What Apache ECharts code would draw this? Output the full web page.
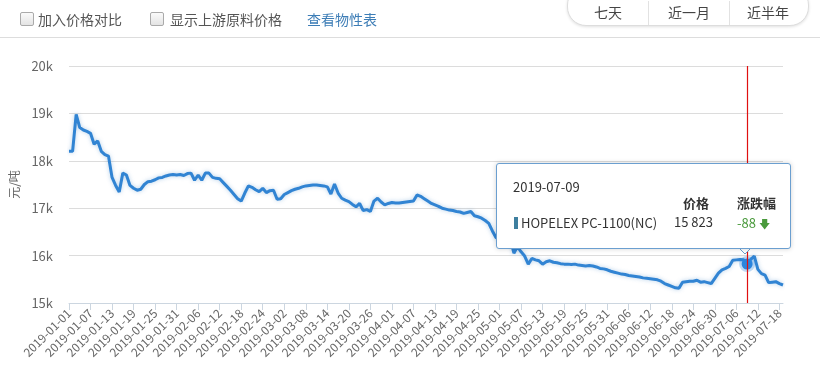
<!DOCTYPE html>
<html>
<head>
<meta charset="utf-8">
<script src="https://cdn.jsdelivr.net/npm/echarts@6/dist/echarts.min.js"></script>
<style>
  html, body { margin: 0; padding: 0; background: #fff; overflow: hidden; }
  body { font-family: "Noto Sans CJK SC", "Noto Sans", sans-serif; }
  #wrap { position: relative; width: 820px; height: 377px; }
  #chart { position: absolute; left: 0; top: 0; width: 820px; height: 377px; }
  .bar { position: absolute; left: 0; top: 0; width: 820px; height: 37px; border-bottom: 1px solid #ddd; z-index: 2; }
  .chk { position: absolute; top: 12px; width: 12px; height: 12px; border: 1px solid #aaa; border-radius: 2px;
         background: linear-gradient(#fafafa, #e4e4e4); }
  .lbl { position: absolute; top: 9px; font-size: 14px; line-height: 20px; color: #555; }
  .link { color: #3d7db6; }
  .pill { position: absolute; left: 567px; top: -14px; width: 240px; height: 38px; border: 1px solid #ddd;
          border-radius: 19px; box-shadow: 0 1px 3px rgba(0,0,0,0.12); background: #fff; overflow: hidden; }
  .pill span { position: absolute; top: 14px; width: 80px; text-align: center; font-size: 14px; line-height: 22px; color: #444; }
  .pill i { position: absolute; top: 14px; width: 1px; height: 24px; background: #e2e2e2; }
</style>
</head>
<body>
<div id="wrap">
  <div id="chart"></div>
  <div class="bar">
    <div class="chk" style="left:20px"></div>
    <div class="lbl" style="left:38px">加入价格对比</div>
    <div class="chk" style="left:150px"></div>
    <div class="lbl" style="left:170px">显示上游原料价格</div>
    <div class="lbl link" style="left:307px">查看物性表</div>
    <div class="pill">
      <span style="left:0">七天</span><i style="left:80px"></i>
      <span style="left:81px">近一月</span><i style="left:161px"></i>
      <span style="left:160px">近半年</span>
    </div>
  </div>
</div>
<script>
// daily prices 2019-01-01 .. 2019-07-19 (元/吨)
var prices = [
  18200, 18200, 18980, 18700, 18650, 18620, 18580, 18350, 18420, 18200,
  18130, 18100, 17650, 17480, 17340, 17740, 17700, 17480, 17420, 17380,
  17400, 17500, 17560, 17570, 17600, 17640, 17650, 17680, 17700, 17710,
  17700, 17710, 17690, 17730, 17740, 17590, 17700, 17590, 17740, 17740,
  17650, 17630, 17620, 17540, 17460, 17380, 17290, 17200, 17150, 17320,
  17470, 17440, 17390, 17350, 17420, 17330, 17370, 17380, 17190, 17200,
  17290, 17330, 17370, 17400, 17420, 17450, 17470, 17480, 17490, 17490,
  17480, 17470, 17450, 17300, 17510, 17320, 17210, 17170, 17140, 17080,
  17030, 17100, 16950, 16970, 16930, 17150, 17210, 17130, 17070, 17100,
  17120, 17110, 17110, 17120, 17130, 17140, 17150, 17280, 17250, 17200,
  17150, 17100, 17070, 17040, 17000, 16980, 16960, 16950, 16930, 16920,
  16890, 16910, 16930, 16840, 16820, 16790, 16740, 16680, 16520, 16380,
  16350, 16320, 16330, 16360, 16050, 16190, 16080, 15990, 15820, 15940,
  15910, 15890, 15820, 15870, 15890, 15860, 15850, 15830, 15820, 15820,
  15810, 15820, 15800, 15790, 15780, 15790, 15780, 15760, 15730, 15720,
  15700, 15670, 15650, 15630, 15610, 15600, 15580, 15570, 15560, 15550,
  15530, 15520, 15510, 15500, 15490, 15460, 15410, 15380, 15350, 15320,
  15310, 15440, 15450, 15460, 15460, 15480, 15440, 15450, 15430, 15410,
  15520, 15630, 15700, 15730, 15770, 15900, 15910, 15920, 15911, 15823,
  15920, 15990, 15710, 15620, 15590, 15430, 15440, 15450, 15410, 15380
];
var seriesName = 'HOPELEX PC-1100(NC)';
var yTicks = [15000, 16000, 17000, 18000, 19000, 20000];
var focusIndex = 189; // 2019-07-09

var dates = [];
for (var i = 0; i < prices.length; i++) {
  var d = new Date(Date.UTC(2019, 0, 1 + i));
  dates.push(d.toISOString().slice(0, 10));
}

function fmtNum(v) {
  return String(v).replace(/\B(?=(\d{3})+(?!\d))/g, ' ');
}

var pointerStyle = { color: '#e01010', width: 1.2, type: 'solid' };

var chart = echarts.init(document.getElementById('chart'));
chart.setOption({
  animation: false,
  textStyle: { fontFamily: '"Noto Sans CJK SC", "Noto Sans", sans-serif' },
  grid: { left: 69, right: 37, top: 66, bottom: 74 },
  // small pointer under the tooltip box
  graphic: [{
    type: 'polygon',
    z: 100,
    shape: { points: [[738, 247], [745, 254], [752, 247]] },
    style: { fill: '#fff', stroke: '#6b9fd0', lineWidth: 1 }
  }],
  tooltip: {
    trigger: 'axis',
    triggerOn: 'none',
    alwaysShowContent: true,
    transitionDuration: 0,
    position: [496, 163],
    padding: 0,
    backgroundColor: '#fff',
    borderColor: '#6b9fd0',
    borderWidth: 1,
    extraCssText: 'box-shadow:0 0 5px rgba(0,0,0,0.18);border-radius:3px;width:293px;height:84px;',
    axisPointer: { type: 'line', lineStyle: pointerStyle, label: { show: false } },
    formatter: function (params) {
      var p = params[0];
      var idx = p.dataIndex;
      var diff = idx > 0 ? prices[idx] - prices[idx - 1] : 0;
      var s = 'position:absolute;white-space:nowrap;font-size:13px;line-height:16px;';
      return '<div style="position:relative;width:293px;height:84px;color:#333;">' +
        '<div style="' + s + 'left:16px;top:15px;">' + p.name + '</div>' +
        '<div style="' + s + 'left:186px;top:31px;font-weight:bold;">价格</div>' +
        '<div style="' + s + 'left:240px;top:31px;font-weight:bold;">涨跌幅</div>' +
        '<div style="position:absolute;left:17px;top:53px;width:4px;height:12px;background:#3e7f9f;"></div>' +
        '<div style="' + s + 'left:24px;top:51px;">' + seriesName + '</div>' +
        '<div style="' + s + 'left:177px;top:50px;">' + fmtNum(p.value) + '</div>' +
        '<div style="' + s + 'left:240px;top:51px;color:#4a9a3c;">' + diff + ' <span style="font-size:11px;">&#129095;</span></div>' +
        '</div>';
    }
  },
  xAxis: {
    type: 'category',
    boundaryGap: false,
    data: dates,
    axisPointer: { lineStyle: pointerStyle },
    axisLine: { lineStyle: { color: '#ccd6e0' } },
    axisTick: { interval: 5, length: 7, lineStyle: { color: '#ccd6e0' } },
    axisLabel: { interval: 5, rotate: 45, color: '#666', fontSize: 12, margin: 8 }
  },
  yAxis: {
    type: 'value',
    min: yTicks[0],
    max: yTicks[yTicks.length - 1],
    interval: 1000,
    name: '元/吨',
    nameLocation: 'middle',
    nameRotate: 90,
    nameGap: 46,
    nameTextStyle: { color: '#666', fontSize: 12 },
    axisLine: { show: false },
    axisTick: { show: false },
    axisLabel: {
      color: '#666', fontSize: 13, margin: 16,
      formatter: function (v) { return (v / 1000) + 'k'; }
    },
    splitLine: { lineStyle: { color: '#dcdcdc' } }
  },
  series: [{
    name: seriesName,
    type: 'line',
    data: prices,
    showSymbol: false,
    symbol: 'circle',
    symbolSize: 11,
    lineStyle: { color: '#2d78c0', width: 3, shadowColor: 'rgba(45,120,192,0.35)', shadowBlur: 4 },
    itemStyle: { color: '#2b86de' },
    emphasis: {
      scale: false,
      lineStyle: { width: 3 },
      itemStyle: { color: '#2b86de', borderColor: 'rgba(43,134,222,0.3)', borderWidth: 5 }
    }
  }]
});
chart.dispatchAction({ type: 'showTip', seriesIndex: 0, dataIndex: focusIndex });
chart.dispatchAction({ type: 'highlight', seriesIndex: 0, dataIndex: focusIndex });
</script>
</body>
</html>
